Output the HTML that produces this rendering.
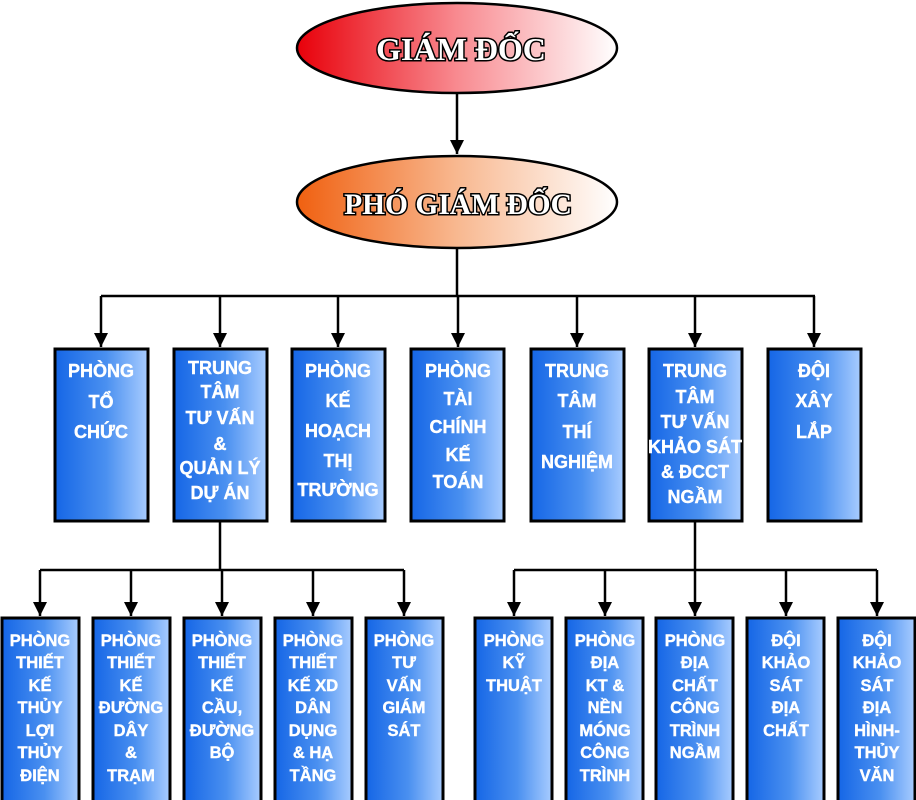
<!DOCTYPE html>
<html><head><meta charset="utf-8"><style>
html,body{margin:0;padding:0;background:#fff;width:916px;height:800px;overflow:hidden}
svg{display:block}
.t1{font-family:"Liberation Sans",sans-serif;font-weight:bold;font-size:18px;fill:#fff;text-anchor:middle;stroke:#fff;stroke-width:0.4px}
.t2{font-family:"Liberation Sans",sans-serif;font-weight:bold;font-size:16.5px;fill:#fff;text-anchor:middle;stroke:#fff;stroke-width:0.4px}
.h{font-family:"Liberation Serif",serif;font-weight:bold;font-size:32px;fill:#fff;stroke:#000;stroke-width:3px;paint-order:stroke;text-anchor:middle}
</style></head><body>
<svg width="916" height="800" viewBox="0 0 916 800" xmlns="http://www.w3.org/2000/svg">
<defs>
<linearGradient id="r" x1="0" x2="1"><stop offset="0" stop-color="#e8000a"/><stop offset="0.5" stop-color="#f88a90"/><stop offset="1" stop-color="#fff"/></linearGradient>
<linearGradient id="o" x1="0" x2="1"><stop offset="0" stop-color="#f06010"/><stop offset="0.5" stop-color="#f8b890"/><stop offset="1" stop-color="#fff"/></linearGradient>
<linearGradient id="b" x1="0" x2="1"><stop offset="0" stop-color="#1566e6"/><stop offset="0.55" stop-color="#4a90f0"/><stop offset="1" stop-color="#a8ccff"/></linearGradient>
<marker id="a" viewBox="0 0 10 10" refX="10" refY="5" markerWidth="14" markerHeight="14" markerUnits="userSpaceOnUse" orient="auto"><path d="M0,0 L10,5 L0,10 z" fill="#000"/></marker>
</defs>
<g stroke="#000" stroke-width="2.5" fill="none">
<line x1="457" y1="93" x2="457" y2="154" marker-end="url(#a)"/>
<line x1="457" y1="248" x2="457" y2="296"/>
<line x1="101" y1="296" x2="815" y2="296"/>
<line x1="101" y1="296" x2="101" y2="347" marker-end="url(#a)"/>
<line x1="220" y1="296" x2="220" y2="347" marker-end="url(#a)"/>
<line x1="338" y1="296" x2="338" y2="347" marker-end="url(#a)"/>
<line x1="458" y1="296" x2="458" y2="347" marker-end="url(#a)"/>
<line x1="577" y1="296" x2="577" y2="347" marker-end="url(#a)"/>
<line x1="695" y1="296" x2="695" y2="347" marker-end="url(#a)"/>
<line x1="814" y1="296" x2="814" y2="347" marker-end="url(#a)"/>
<line x1="220" y1="522" x2="220" y2="570"/>
<line x1="40" y1="570" x2="404" y2="570"/>
<line x1="40" y1="570" x2="40" y2="616" marker-end="url(#a)"/>
<line x1="131" y1="570" x2="131" y2="616" marker-end="url(#a)"/>
<line x1="222" y1="570" x2="222" y2="616" marker-end="url(#a)"/>
<line x1="313" y1="570" x2="313" y2="616" marker-end="url(#a)"/>
<line x1="404" y1="570" x2="404" y2="616" marker-end="url(#a)"/>
<line x1="695" y1="522" x2="695" y2="570"/>
<line x1="514" y1="570" x2="877" y2="570"/>
<line x1="514" y1="570" x2="514" y2="616" marker-end="url(#a)"/>
<line x1="605" y1="570" x2="605" y2="616" marker-end="url(#a)"/>
<line x1="695" y1="570" x2="695" y2="616" marker-end="url(#a)"/>
<line x1="786" y1="570" x2="786" y2="616" marker-end="url(#a)"/>
<line x1="877" y1="570" x2="877" y2="616" marker-end="url(#a)"/>
</g>
<ellipse cx="457" cy="48" rx="160" ry="45" fill="url(#r)" stroke="#000" stroke-width="2.5"/>
<ellipse cx="457" cy="202" rx="160" ry="46" fill="url(#o)" stroke="#000" stroke-width="2.5"/>
<text class="h" x="461" y="60">GIÁM ĐỐC</text>
<text class="h" x="458" y="214" style="font-size:29.5px">PHÓ GIÁM ĐỐC</text>
<g fill="url(#b)" stroke="#000" stroke-width="3">
<rect x="55" y="349" width="93" height="172"/>
<rect x="174" y="349" width="93" height="172"/>
<rect x="292" y="349" width="93" height="172"/>
<rect x="411" y="349" width="93" height="172"/>
<rect x="531" y="349" width="93" height="172"/>
<rect x="649" y="349" width="93" height="172"/>
<rect x="768" y="349" width="93" height="172"/>
<rect x="2" y="618" width="77" height="184"/>
<rect x="93" y="618" width="77" height="184"/>
<rect x="184" y="618" width="77" height="184"/>
<rect x="275" y="618" width="77" height="184"/>
<rect x="366" y="618" width="77" height="184"/>
<rect x="475" y="618" width="77" height="184"/>
<rect x="566" y="618" width="77" height="184"/>
<rect x="656" y="618" width="77" height="184"/>
<rect x="747" y="618" width="77" height="184"/>
<rect x="838" y="618" width="77" height="184"/>
</g>
<g class="t1">
<text x="101" y="377">PHÒNG</text><text x="101" y="408">TỔ</text><text x="101" y="438">CHỨC</text>
<text x="220" y="374">TRUNG</text><text x="220" y="398">TÂM</text><text x="220" y="424">TƯ VẤN</text><text x="220" y="450">&amp;</text><text x="220" y="474">QUẢN LÝ</text><text x="220" y="499">DỰ ÁN</text>
<text x="338" y="377">PHÒNG</text><text x="338" y="407">KẾ</text><text x="338" y="437">HOẠCH</text><text x="338" y="467">THỊ</text><text x="338" y="496">TRƯỜNG</text>
<text x="458" y="377">PHÒNG</text><text x="458" y="405">TÀI</text><text x="458" y="433">CHÍNH</text><text x="458" y="461">KẾ</text><text x="458" y="488">TOÁN</text>
<text x="577" y="377">TRUNG</text><text x="577" y="407">TÂM</text><text x="577" y="438">THÍ</text><text x="577" y="468">NGHIỆM</text>
<text x="695" y="377">TRUNG</text><text x="695" y="403">TÂM</text><text x="695" y="428">TƯ VẤN</text><text x="695" y="453">KHẢO SÁT</text><text x="695" y="478">&amp; ĐCCT</text><text x="695" y="503">NGẦM</text>
<text x="814" y="377">ĐỘI</text><text x="814" y="407">XÂY</text><text x="814" y="438">LẮP</text>
</g>
<g class="t2">
<text x="40" y="646">PHÒNG</text><text x="40" y="668">THIẾT</text><text x="40" y="691">KẾ</text><text x="40" y="713">THỦY</text><text x="40" y="736">LỢI</text><text x="40" y="758">THỦY</text><text x="40" y="781">ĐIỆN</text>
<text x="131" y="646">PHÒNG</text><text x="131" y="668">THIẾT</text><text x="131" y="691">KẾ</text><text x="131" y="713">ĐƯỜNG</text><text x="131" y="736">DÂY</text><text x="131" y="758">&amp;</text><text x="131" y="781">TRẠM</text>
<text x="222" y="646">PHÒNG</text><text x="222" y="668">THIẾT</text><text x="222" y="691">KẾ</text><text x="222" y="713">CẦU,</text><text x="222" y="736">ĐƯỜNG</text><text x="222" y="758">BỘ</text>
<text x="313" y="646">PHÒNG</text><text x="313" y="668">THIẾT</text><text x="313" y="691">KẾ XD</text><text x="313" y="713">DÂN</text><text x="313" y="736">DỤNG</text><text x="313" y="758">&amp; HẠ</text><text x="313" y="781">TẦNG</text>
<text x="404" y="646">PHÒNG</text><text x="404" y="668">TƯ</text><text x="404" y="691">VẤN</text><text x="404" y="713">GIÁM</text><text x="404" y="736">SÁT</text>
<text x="514" y="646">PHÒNG</text><text x="514" y="668">KỸ</text><text x="514" y="691">THUẬT</text>
<text x="605" y="646">PHÒNG</text><text x="605" y="668">ĐỊA</text><text x="605" y="691">KT &amp;</text><text x="605" y="713">NỀN</text><text x="605" y="736">MÓNG</text><text x="605" y="758">CÔNG</text><text x="605" y="781">TRÌNH</text>
<text x="695" y="646">PHÒNG</text><text x="695" y="668">ĐỊA</text><text x="695" y="691">CHẤT</text><text x="695" y="713">CÔNG</text><text x="695" y="736">TRÌNH</text><text x="695" y="758">NGẦM</text>
<text x="786" y="646">ĐỘI</text><text x="786" y="668">KHẢO</text><text x="786" y="691">SÁT</text><text x="786" y="713">ĐỊA</text><text x="786" y="736">CHẤT</text>
<text x="877" y="646">ĐỘI</text><text x="877" y="668">KHẢO</text><text x="877" y="691">SÁT</text><text x="877" y="713">ĐỊA</text><text x="877" y="736">HÌNH-</text><text x="877" y="758">THỦY</text><text x="877" y="781">VĂN</text>
</g>
</svg>
</body></html>
